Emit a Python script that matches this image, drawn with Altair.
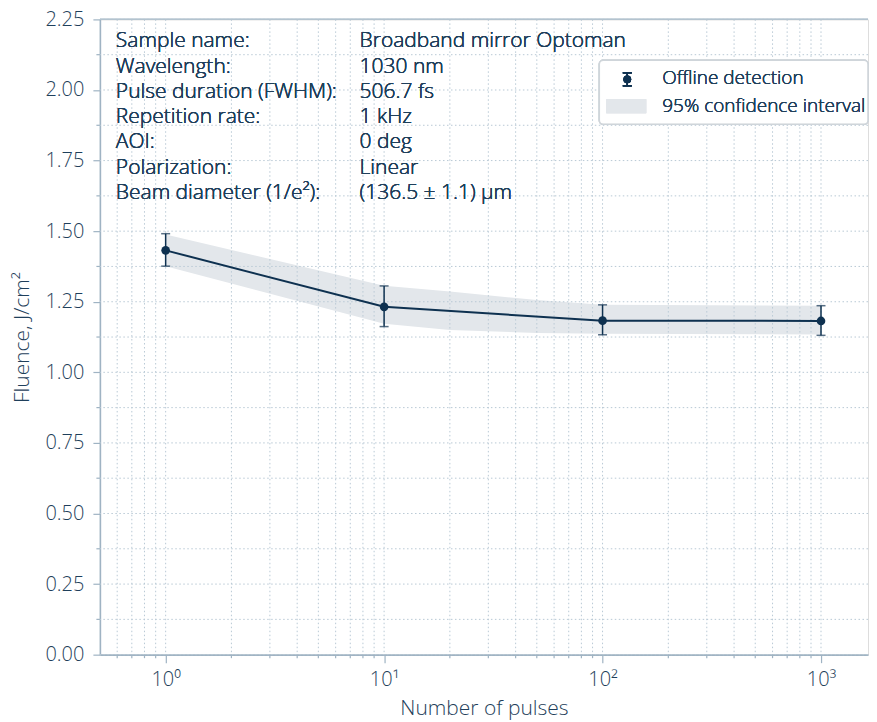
import altair as alt
import pandas as pd

# ---------------- data ----------------
pulses = [1, 10, 100, 1000]
fluence = [1.432, 1.232, 1.183, 1.182]
err_lo = [1.376, 1.162, 1.133, 1.131]
err_hi = [1.491, 1.306, 1.239, 1.236]

band_x = [1, 10, 20, 50, 100, 1000]
band_lo = [1.376, 1.172, 1.150, 1.139, 1.137, 1.134]
band_hi = [1.488, 1.307, 1.286, 1.256, 1.239, 1.236]

x_tick_values = [0.6, 0.7, 0.8, 0.9,
                 1, 2, 3, 4, 5, 6, 7, 8, 9,
                 10, 20, 30, 40, 50, 60, 70, 80, 90,
                 100, 200, 300, 400, 500, 600, 700, 800, 900,
                 1000]
x_major = [1, 10, 100, 1000]
x_major_labels = ["10⁰", "10¹", "10²", "10³"]
y_tick_values = [0, 0.125, 0.25, 0.375, 0.5, 0.625, 0.75, 0.875, 1.0,
                 1.125, 1.25, 1.375, 1.5, 1.625, 1.75, 1.875, 2.0, 2.125, 2.25]
y_major = [0, 0.25, 0.5, 0.75, 1.0, 1.25, 1.5, 1.75, 2.0, 2.25]

info_labels = ["Sample name:", "Wavelength:", "Pulse duration (FWHM):",
               "Repetition rate:", "AOI:", "Polarization:", "Beam diameter (1/e²):"]
info_values = ["Broadband mirror Optoman", "1030 nm", "506.7 fs", "1 kHz",
               "0 deg", "Linear", "(136.5 ± 1.1) µm"]
legend_labels = ["Offline detection", "95% confidence interval"]

# ---------------- style ----------------
W, H = 769, 636
FONT = "Open Sans"
NAVY = "#0e3150"
TEXT = "#1f3f5b"
AXIS = "#9fb3c3"
GRID = "#b9c9d5"
BAND = "#e3e7eb"
INFO_TOP, INFO_STEP = 28, 25.3

pts = pd.DataFrame({"x": pulses, "y": fluence, "lo": err_lo, "hi": err_hi})
band = pd.DataFrame({"x": band_x, "lo": band_lo, "hi": band_hi})
xgrid = pd.DataFrame({"x": x_tick_values})
ygrid = pd.DataFrame({"y": y_tick_values})
xminor = pd.DataFrame({"x": [v for v in x_tick_values if v not in x_major]})
yminor = pd.DataFrame({"y": [v for v in y_tick_values if v not in y_major]})

label_expr = " : ".join(
    f"datum.value == {v} ? '{t}'" for v, t in zip(x_major, x_major_labels)
) + " : ''"

xscale = alt.Scale(type="log", domain=[0.5, 1641], nice=False)
yscale = alt.Scale(domain=[0, 2.25], nice=False, zero=False)

xaxis = alt.Axis(
    values=x_major, labelExpr=label_expr, title="Number of pulses",
    grid=False, labelOverlap=False, labelFlush=False, tickSize=8,
    tickColor=AXIS, tickWidth=1.2, domainColor=AXIS, domainWidth=1.6,
    labelFont=FONT, labelFontSize=20, labelFontWeight=300, labelColor=TEXT,
    labelPadding=7, titleFont=FONT, titleFontSize=21, titleFontWeight=300,
    titleColor=TEXT, titlePadding=8,
)
yaxis = alt.Axis(
    values=y_major, format=".2f",
    title="Fluence, J/cm²", grid=False, labelOverlap=False, labelFlush=False,
    tickSize=7, tickColor=AXIS, tickWidth=1.2, domainColor=AXIS, domainWidth=1.6,
    labelFont=FONT, labelFontSize=20, labelFontWeight=300, labelColor=TEXT,
    labelPadding=9, titleFont=FONT, titleFontSize=21, titleFontWeight=300,
    titleColor=TEXT, titlePadding=12,
)


def X(field):
    return alt.X(f"{field}:Q", scale=xscale, axis=xaxis)


def Y(field):
    return alt.Y(f"{field}:Q", scale=yscale, axis=yaxis)


band_layer = alt.Chart(band).mark_area(color=BAND, opacity=1).encode(
    x=X("x"), y=Y("lo"), y2="hi:Q"
)

vgrid = alt.Chart(xgrid).mark_rule(
    color=GRID, strokeWidth=1, strokeDash=[1.5, 2.5]
).encode(x=X("x"))
hgrid = alt.Chart(ygrid).mark_rule(
    color=GRID, strokeWidth=1, strokeDash=[1.5, 2.5]
).encode(y=Y("y"))

# minor ticks
xminor_ticks = alt.Chart(xminor).mark_rule(color=AXIS, strokeWidth=1.2).encode(
    x=X("x"), y=alt.value(H), y2=alt.value(H + 3.5)
)
yminor_ticks = alt.Chart(yminor).mark_rule(color=AXIS, strokeWidth=1.2).encode(
    y=Y("y"), x=alt.value(-3.5), x2=alt.value(0)
)

line = alt.Chart(pts).mark_line(color=NAVY, strokeWidth=2).encode(
    x=X("x"), y=Y("y")
)
ebar = alt.Chart(pts).mark_rule(color=NAVY, strokeWidth=1.5).encode(
    x=X("x"), y=Y("lo"), y2="hi:Q"
)
cap_lo = alt.Chart(pts).mark_tick(
    color=NAVY, orient="horizontal", size=9, thickness=1.5
).encode(x=X("x"), y=Y("lo"))
cap_hi = alt.Chart(pts).mark_tick(
    color=NAVY, orient="horizontal", size=9, thickness=1.5
).encode(x=X("x"), y=Y("hi"))
points = alt.Chart(pts).mark_point(
    filled=True, color=NAVY, size=75, opacity=1
).encode(x=X("x"), y=Y("y"))

# info block: one text mark per line
info_layers = []
for i, (lab, val) in enumerate(zip(info_labels, info_values)):
    ypos = INFO_TOP + i * INFO_STEP
    for xpos, txt in ((16, lab), (260, val)):
        info_layers.append(
            alt.Chart(pts).mark_text(
                align="left", baseline="alphabetic", font=FONT, fontSize=21,
                fontWeight=300, color=TEXT, text=txt
            ).encode(x=alt.value(xpos), y=alt.value(ypos))
        )

# legend
leg_box = alt.Chart(pts).mark_rect(
    fill="white", fillOpacity=0.8, stroke="#cfd5da", strokeWidth=1.5,
    cornerRadius=4
).encode(x=alt.value(500), x2=alt.value(W), y=alt.value(41), y2=alt.value(105))
leg_bar = alt.Chart(pts).mark_rule(color=NAVY, strokeWidth=1.5).encode(
    x=alt.value(528), y=alt.value(53.5), y2=alt.value(66.5)
)
leg_cap1 = alt.Chart(pts).mark_rule(color=NAVY, strokeWidth=1.5).encode(
    x=alt.value(523.5), x2=alt.value(532.5), y=alt.value(53.5)
)
leg_cap2 = alt.Chart(pts).mark_rule(color=NAVY, strokeWidth=1.5).encode(
    x=alt.value(523.5), x2=alt.value(532.5), y=alt.value(66.5)
)
leg_dot = alt.Chart(pts).mark_point(
    filled=True, color=NAVY, size=60, opacity=1, shape="circle"
).encode(x=alt.value(528), y=alt.value(60))
leg_rect = alt.Chart(pts).mark_rect(color=BAND).encode(
    x=alt.value(507), x2=alt.value(547), y=alt.value(80), y2=alt.value(94)
)
leg_t1 = alt.Chart(pts).mark_text(
    align="left", baseline="alphabetic", font=FONT, fontSize=19,
    fontWeight=300, color=TEXT, text=legend_labels[0]
).encode(x=alt.value(563), y=alt.value(64.5))
leg_t2 = alt.Chart(pts).mark_text(
    align="left", baseline="alphabetic", font=FONT, fontSize=19,
    fontWeight=300, color=TEXT, text=legend_labels[1]
).encode(x=alt.value(563), y=alt.value(92.5))

top_spine = alt.Chart(pts).mark_rule(color="#b3c3cf", strokeWidth=1.2).encode(
    x=alt.value(0), x2=alt.value(W), y=alt.value(0)
)

chart = alt.layer(
    band_layer, vgrid, hgrid, xminor_ticks, yminor_ticks, line, ebar,
    cap_lo, cap_hi, points,
    *info_layers, leg_box, leg_bar, leg_cap1, leg_cap2, leg_dot,
    leg_rect, leg_t1, leg_t2, top_spine
).properties(
    width=W, height=H, padding={"left": 3, "top": 1, "right": 0, "bottom": 5}
).configure_view(stroke=None).configure(background="white")

chart.save("out.html", embed_options={"renderer": "svg", "actions": False})
